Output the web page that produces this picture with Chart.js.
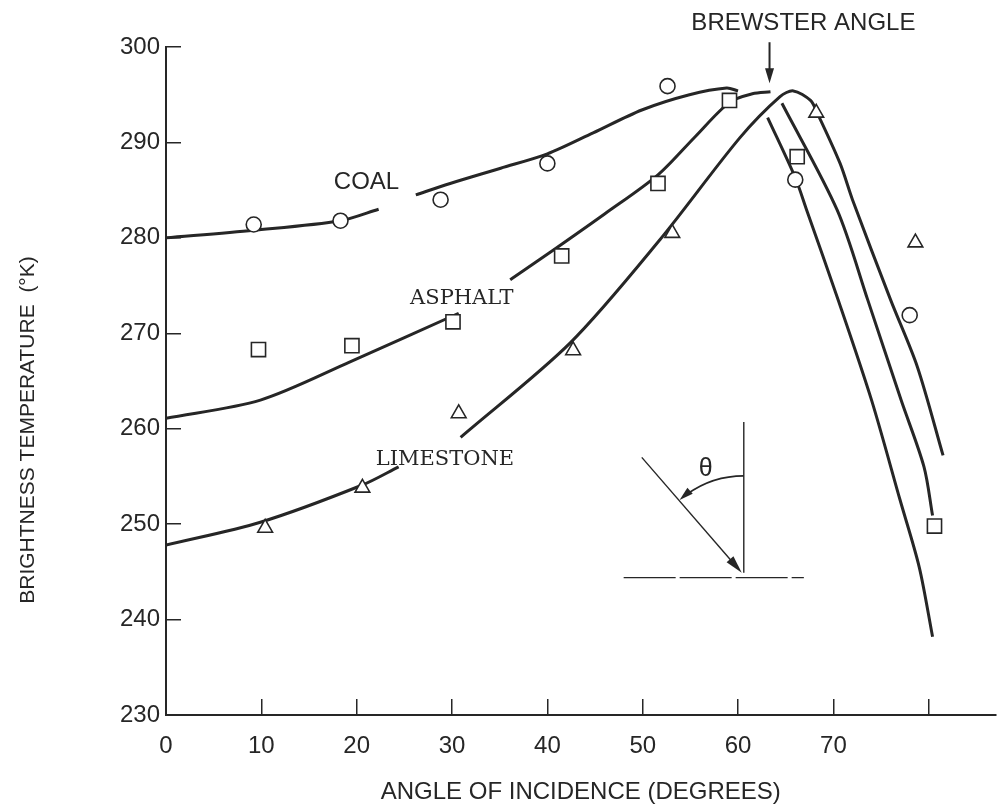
<!DOCTYPE html>
<html>
<head>
<meta charset="utf-8">
<script src="https://cdn.jsdelivr.net/npm/chart.js@4.4.1/dist/chart.umd.min.js"></script>
<style>
  body { margin: 0; background: #fff; }
  #wrap { width: 997px; height: 812px; }
</style>
</head>
<body>
<div id="wrap"><canvas id="chart" width="997" height="812"></canvas></div>
<script>
// Fitted curves (null = pen lifted around labels / crossings)
const coalCurveAngle = [0, 9.2, 18.3, 22.3, 24.2, 26.2, 29.8, 35.1, 40.0, 44.8, 49.9, 54.9, 58.8, 60.0, 61.5, 63.1, 66.0, 67.2, 70.5, 74.0, 77.0, 79.0, 80.4];
const coalCurveTemp = [280.0, 280.8, 281.8, 283.0, null, 284.5, 285.7, 287.3, 288.8, 291.0, 293.4, 295.0, 295.7, 295.4, null, 292.6, 286.3, 282.9, 273.5, 263.0, 252.5, 245.5, 238.2];

const asphaltCurveAngle = [0, 9.9, 19.3, 30.7, 33.4, 36.1, 40.6, 46.0, 51.6, 55.5, 59.1, 61.5, 63.4, 64.0, 64.6, 70.4, 73.6, 77.1, 79.5, 80.4];
const asphaltCurveTemp = [261.1, 263.0, 267.0, 272.1, null, 275.6, 278.7, 282.5, 286.6, 290.6, 294.2, 295.1, 295.3, null, 294.1, 282.9, 273.5, 263.0, 256.0, 250.9];

const limestoneCurveAngle = [0, 9.9, 20.6, 24.4, 27.6, 30.9, 42.4, 51.8, 60.2, 64.4, 65.8, 67.6, 68.3, 70.7, 72.0, 76.0, 78.8, 81.5];
const limestoneCurveTemp = [247.8, 250.2, 254.1, 256.0, null, 259.1, 269.0, 279.8, 290.5, 294.8, 295.4, 294.4, 293.1, 287.8, 284.0, 273.5, 266.5, 257.2];

// Measured points
const coalObsAngle = [9.2, 18.3, 28.8, 40.0, 52.6, 66.0, 78.0];
const coalObsTemp = [281.4, 281.8, 284.0, 287.8, 295.9, 286.1, 271.9];
const asphaltObsAngle = [9.7, 19.5, 30.1, 41.5, 51.6, 59.1, 66.2, 80.6];
const asphaltObsTemp = [268.3, 268.7, 271.2, 278.1, 285.7, 294.4, 288.5, 249.8];
const limestoneObsAngle = [10.4, 20.6, 30.7, 42.7, 53.1, 68.2, 78.6];
const limestoneObsTemp = [249.6, 253.8, 261.6, 268.2, 280.5, 293.1, 279.5];

const xTicks = [0, 10, 20, 30, 40, 50, 60, 70, 80];
const xTickLabels = ["0", "10", "20", "30", "40", "50", "60", "70", ""];

const ink = "#262626";
const sans = "'Liberation Sans', Arial, sans-serif";
const serif = "'DejaVu Serif', serif";

const pairs = (xs, ys) => xs.map((a, i) => ({ x: a, y: ys[i] }));

const curve = (label, xs, ys) => ({
  label: label,
  data: pairs(xs, ys),
  borderColor: ink,
  borderWidth: 3,
  pointRadius: 0,
  tension: 0.3,
  spanGaps: false,
  fill: false,
  order: 1
});

const marks = (label, xs, ys, style, r) => ({
  label: label,
  data: pairs(xs, ys),
  showLine: false,
  pointStyle: style,
  pointRadius: r,
  pointBackgroundColor: "#fff",
  pointBorderColor: ink,
  pointBorderWidth: 1.6,
  order: 0
});

// text on the plot, placed in data units
const curveLabels = [
  { text: "COAL", x: 17.6, y: 285.1, font: "24px " + sans, align: "left" },
  { text: "ASPHALT", x: 25.6, y: 273.1, font: "21px " + serif, align: "left" },
  { text: "LIMESTONE", x: 22.0, y: 256.2, font: "21px " + serif, align: "left" },
  { text: "BREWSTER ANGLE", x: 78.6, y: 301.8, font: "24px " + sans, align: "right" }
];

const arrowHead = (ctx, tx, ty, ang, len, half) => {
  const bx = tx - len * Math.cos(ang), by = ty - len * Math.sin(ang);
  ctx.beginPath();
  ctx.moveTo(tx, ty);
  ctx.lineTo(bx + half * Math.sin(ang), by - half * Math.cos(ang));
  ctx.lineTo(bx - half * Math.sin(ang), by + half * Math.cos(ang));
  ctx.closePath();
  ctx.fill();
};

const annotate = {
  id: "annotate",
  afterDraw(chart) {
    const { ctx, scales: { x, y } } = chart;
    const px = v => x.getPixelForValue(v);
    const py = v => y.getPixelForValue(v);
    ctx.save();
    ctx.fillStyle = ink;
    ctx.strokeStyle = ink;

    curveLabels.forEach(l => {
      ctx.font = l.font;
      ctx.textAlign = l.align;
      ctx.textBaseline = "alphabetic";
      ctx.fillText(l.text, px(l.x), py(l.y));
    });

    // Brewster arrow
    const bx = px(63.3);
    ctx.lineWidth = 2;
    ctx.beginPath();
    ctx.moveTo(bx, py(300.5));
    ctx.lineTo(bx, py(296.2) - 10);
    ctx.stroke();
    arrowHead(ctx, bx, py(296.2), Math.PI / 2, 15, 4.5);

    // inset: incidence sketch
    const nx = px(60.6), ny = py(244.9);
    ctx.lineWidth = 1.4;
    ctx.beginPath();
    ctx.moveTo(nx, py(260.7));
    ctx.lineTo(nx, ny);
    ctx.stroke();
    ctx.setLineDash([52, 4]);
    ctx.beginPath();
    ctx.moveTo(px(48.0), py(244.4));
    ctx.lineTo(px(66.9), py(244.4));
    ctx.stroke();
    ctx.setLineDash([]);
    const sx = px(49.9), sy = py(257.0);
    const dAng = Math.atan2(ny - sy, nx - 2 - sx);
    ctx.beginPath();
    ctx.moveTo(sx, sy);
    ctx.lineTo(nx - 2 - 14 * Math.cos(dAng), ny - 14 * Math.sin(dAng));
    ctx.stroke();
    arrowHead(ctx, nx - 2, ny, dAng, 18, 4.5);
    // angle arc
    const r = 97;
    const a0 = -Math.PI / 2;
    const a1 = Math.atan2(sy - ny, sx - nx);
    ctx.lineWidth = 1.8;
    ctx.beginPath();
    ctx.arc(nx, ny, r, a0, a1 + 0.1, true);
    ctx.stroke();
    const ex = nx + r * Math.cos(a1), ey = ny + r * Math.sin(a1);
    arrowHead(ctx, ex, ey, Math.atan2(-Math.cos(a1), Math.sin(a1)), 14, 4);
    ctx.font = "25px " + sans;
    ctx.textAlign = "center";
    ctx.textBaseline = "middle";
    ctx.fillText("\u03b8", px(56.6), py(255.8));

    // y axis title
    ctx.translate(28, 430);
    ctx.rotate(-Math.PI / 2);
    ctx.font = "21px " + sans;
    ctx.textAlign = "center";
    ctx.textBaseline = "middle";
    ctx.fillText("BRIGHTNESS TEMPERATURE  (\u00b0K)", 0, 0);
    ctx.restore();
  }
};

new Chart(document.getElementById("chart"), {
  type: "line",
  data: {
    datasets: [
      marks("Coal", coalObsAngle, coalObsTemp, "circle", 7.5),
      marks("Asphalt", asphaltObsAngle, asphaltObsTemp, "rect", 10),
      marks("Limestone", limestoneObsAngle, limestoneObsTemp, "triangle", 8.5),
      curve("Coal fit", coalCurveAngle, coalCurveTemp),
      curve("Asphalt fit", asphaltCurveAngle, asphaltCurveTemp),
      curve("Limestone fit", limestoneCurveAngle, limestoneCurveTemp)
    ]
  },
  options: {
    responsive: false,
    animation: false,
    devicePixelRatio: 1,
    layout: { autoPadding: false, padding: { top: 47, right: 1.5, bottom: 0, left: 0 } },
    plugins: { legend: { display: false }, tooltip: { enabled: false } },
    scales: {
      x: {
        type: "linear",
        min: 0,
        max: 87,
        afterFit: s => { s.height = 97; s.paddingLeft = 0; s.paddingRight = 0; },
        afterBuildTicks: s => { s.ticks = xTicks.map(v => ({ value: v })); },
        ticks: {
          font: { family: sans, size: 24 },
          color: ink,
          padding: 33,
          maxRotation: 0,
          autoSkip: false,
          callback: v => xTickLabels[xTicks.indexOf(v)]
        },
        grid: { drawOnChartArea: false, drawTicks: true, tickLength: -16, color: ink, lineWidth: 1.5 },
        border: { display: true, color: ink, width: 2 },
        title: {
          display: true,
          text: "ANGLE OF INCIDENCE (DEGREES)",
          font: { family: sans, size: 24 },
          color: ink,
          padding: { top: 0, bottom: 5 }
        }
      },
      y: {
        min: 230,
        max: 300,
        afterFit: s => { s.width = 166; s.paddingTop = 0; s.paddingBottom = 0; },
        ticks: { stepSize: 10, font: { family: sans, size: 24 }, color: ink, padding: 21 },
        grid: { drawOnChartArea: false, drawTicks: true, tickLength: -15, color: ink, lineWidth: 1.5 },
        border: { display: true, color: ink, width: 2 }
      }
    }
  },
  plugins: [annotate]
});
</script>
</body>
</html>
